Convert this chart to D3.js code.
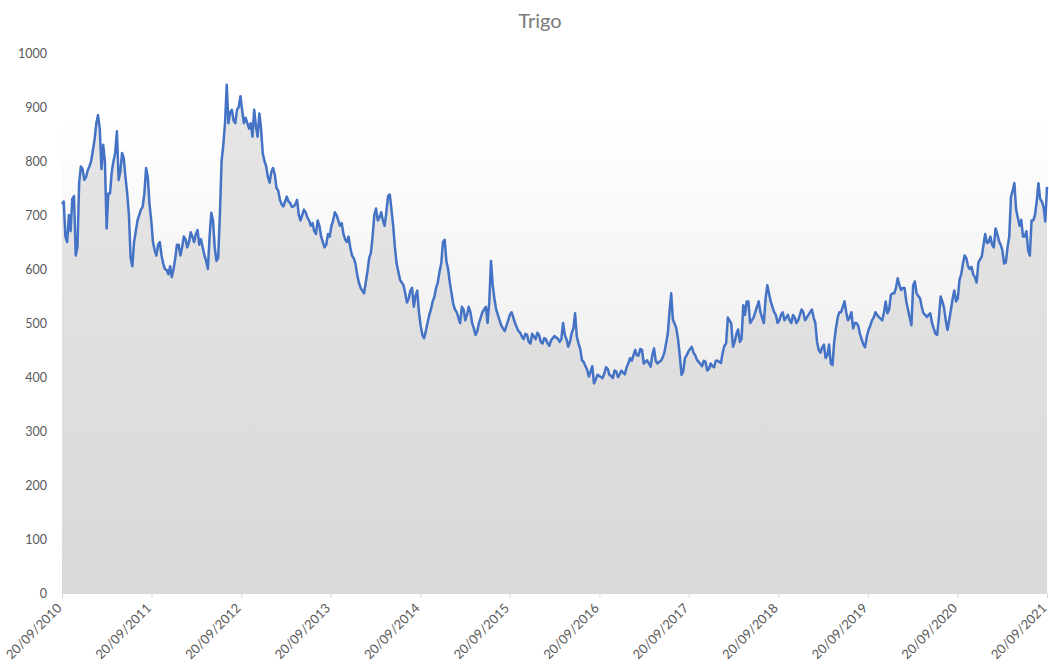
<!DOCTYPE html>
<html>
<head>
<meta charset="utf-8">
<script src="https://cdn.jsdelivr.net/npm/d3@7"></script>
<style>
  html, body { margin: 0; padding: 0; background: #ffffff; }
  svg { display: block; }
  text { font-family: Lato, "Open Sans", sans-serif; }
</style>
</head>
<body>
<svg id="chart" width="1049" height="665"></svg>
<script>
// Wheat price series, one value per week from 20/09/2010 to 20/09/2021
const chartTitle = "Trigo";
const seriesStart = "2010-09-20";
const sampleStepDays = 7;
const prices = [
  720, 725, 660, 650, 700, 670, 730, 735, 625, 640,
  760, 790, 785, 765, 770, 783, 790, 800, 820, 840,
  870, 885, 860, 785, 830, 800, 675, 740, 740, 780,
  800, 815, 855, 765, 780, 815, 805, 770, 740, 700,
  620, 605, 650, 670, 690, 700, 710, 715, 740, 787,
  770, 720, 690, 650, 635, 625, 645, 650, 625, 610,
  600, 598, 590, 605, 585, 600, 620, 645, 645, 625,
  640, 660, 655, 640, 650, 668, 660, 650, 665, 672,
  645, 655, 640, 625, 615, 600, 660, 704, 690, 640,
  615, 620, 700, 800, 830, 870, 941, 870, 890, 895,
  875, 870, 895, 900, 920, 894, 870, 880, 870, 860,
  870, 845, 895, 864, 845, 888, 860, 814, 800, 790,
  770, 760, 780, 787, 775, 750, 745, 728, 720, 716,
  725, 734, 725, 722, 715, 716, 720, 728, 700, 690,
  700, 710, 705, 695, 690, 680, 685, 670, 665, 690,
  680, 660, 650, 640, 645, 665, 660, 680, 690, 705,
  700, 690, 680, 685, 665, 655, 650, 660, 640, 625,
  620, 610, 590, 575, 565, 560, 555, 575, 595, 620,
  630, 660, 700, 712, 690, 695, 705, 690, 680, 705,
  735, 738, 710, 680, 640, 610, 595, 580, 575, 570,
  555, 538, 545, 560, 565, 530, 550, 560, 520, 495,
  478, 472, 485, 500, 515, 525, 540, 548, 565, 575,
  595, 610, 650, 654, 615, 600, 575, 555, 535, 525,
  520, 510, 500, 530, 525, 505, 515, 530, 520, 500,
  490, 478, 485, 500, 510, 520, 525, 530, 500, 540,
  615, 570, 545, 525, 515, 505, 495, 490, 485, 495,
  505, 515, 520, 510, 500, 492, 485, 482, 475, 470,
  480, 478, 465, 462, 480, 475, 470, 482, 478, 465,
  462, 472, 470, 462, 458, 468, 472, 476, 473, 471,
  465, 470, 500, 478, 470, 456, 465, 481, 490, 518,
  475, 462, 452, 431, 428, 420, 414, 401, 410, 420,
  388, 395, 404, 402, 400, 398, 406, 418, 415, 404,
  402, 398, 412, 410, 400, 405, 412, 408, 405, 418,
  425, 435, 430, 440, 450, 440, 440, 452, 450, 425,
  428, 431, 425, 419, 440, 453, 430, 425, 428, 430,
  436, 445, 462, 480, 520, 555, 506, 499, 490, 470,
  440, 404, 410, 435, 440, 447, 452, 456, 445, 440,
  432, 428, 424, 420, 430, 428, 412, 415, 425, 420,
  418, 430, 430, 428, 426, 445, 458, 462, 510, 505,
  499, 456, 465, 480, 488, 465, 470, 533, 515, 540,
  540, 500, 505, 510, 520, 530, 540, 520, 510, 500,
  545, 570, 555, 540, 530, 520, 515, 500, 505, 515,
  520, 505, 510, 515, 505, 500, 515, 510, 500, 505,
  515, 525, 520, 505, 510, 515, 520, 525, 510, 500,
  465, 450, 445, 455, 460, 435, 440, 460, 425, 422,
  465, 490, 510, 520, 520, 530, 540, 520, 505, 510,
  520, 490, 500, 500, 495, 480, 470, 460, 455, 475,
  487, 495, 505, 510, 520, 515, 511, 508, 505, 520,
  540, 518, 525, 552, 555, 555, 565, 583, 570, 561,
  565, 565, 540, 525, 510, 496, 570, 577, 555, 550,
  546, 530, 518, 515, 511, 515, 518, 500, 490, 480,
  478, 510, 549, 540, 528, 505, 487, 505, 524, 545,
  560, 540, 545, 580, 590, 610, 625, 620, 605, 600,
  604, 590, 585, 575, 612, 618, 623, 645, 665, 648,
  650, 660, 645, 640, 675, 665, 652, 645, 635, 610,
  612, 640, 660, 734, 745, 759, 710, 695, 680, 691,
  660, 660, 670, 635, 625, 690, 690, 700, 725, 759,
  730, 725, 715, 688, 752
];
const tickDates = [
  "2010-09-20", "2011-09-20", "2012-09-20", "2013-09-20", "2014-09-20", "2015-09-20",
  "2016-09-20", "2017-09-20", "2018-09-20", "2019-09-20", "2020-09-20", "2021-09-20"
];
const yTicks = [0, 100, 200, 300, 400, 500, 600, 700, 800, 900, 1000];

const parse = d3.timeParse("%Y-%m-%d");
const start = parse(seriesStart);
const data = prices.map((v, i) => ({ date: d3.timeDay.offset(start, i * sampleStepDays), value: v }));
const ticks = tickDates.map(parse);

const svg = d3.select("#chart");
const plot = { left: 62, right: 1047, top: 53, bottom: 593 };

const x = d3.scaleTime().domain([ticks[0], ticks[ticks.length - 1]]).range([plot.left, plot.right]);
const y = d3.scaleLinear().domain([0, 1000]).range([plot.bottom, plot.top]);

const defs = svg.append("defs");
const bgGrad = defs.append("linearGradient").attr("id", "bgGrad")
  .attr("x1", 0).attr("y1", 0).attr("x2", 0).attr("y2", 1);
bgGrad.append("stop").attr("offset", "0%").attr("stop-color", "#ffffff");
bgGrad.append("stop").attr("offset", "45%").attr("stop-color", "#f2f2f2");
bgGrad.append("stop").attr("offset", "100%").attr("stop-color", "#d9d9d9");

const areaGrad = defs.append("linearGradient").attr("id", "areaGrad")
  .attr("gradientUnits", "userSpaceOnUse")
  .attr("x1", 0).attr("y1", y(950)).attr("x2", 0).attr("y2", y(0));
areaGrad.append("stop").attr("offset", "0%").attr("stop-color", "#e6e6e6");
areaGrad.append("stop").attr("offset", "100%").attr("stop-color", "#d9d9d9");

// shaded backdrop behind the series
svg.append("rect")
  .attr("x", plot.left).attr("y", y(880))
  .attr("width", plot.right - plot.left).attr("height", y(0) - y(880))
  .attr("fill", "url(#bgGrad)");

// title
svg.append("text")
  .attr("x", 540).attr("y", 28)
  .attr("text-anchor", "middle")
  .attr("font-size", 20)
  .attr("fill", "#7a7a7a")
  .text(chartTitle);

// area under the price line
const area = d3.area().x(d => x(d.date)).y0(y(0)).y1(d => y(d.value));
svg.append("path").datum(data).attr("d", area).attr("fill", "url(#areaGrad)");

// price line
const line = d3.line().x(d => x(d.date)).y(d => y(d.value));
svg.append("path").datum(data).attr("d", line)
  .attr("fill", "none").attr("stroke", "#4472c4")
  .attr("stroke-width", 2.5).attr("stroke-linejoin", "round");

// y axis labels
const yAxis = svg.append("g").attr("transform", `translate(${plot.left},0)`)
  .call(d3.axisLeft(y).tickValues(yTicks).tickFormat(d3.format("d")).tickSize(0).tickPadding(15));
yAxis.select(".domain").remove();
yAxis.selectAll("text").attr("font-size", 12.5).attr("fill", "#595959")
  .style("font-family", "Lato, 'Open Sans', sans-serif");

// x axis
const xAxis = svg.append("g").attr("transform", `translate(0,${plot.bottom})`)
  .call(d3.axisBottom(x).tickValues(ticks).tickFormat(d3.timeFormat("%d/%m/%Y")).tickSize(5));
xAxis.select(".domain").attr("stroke", "#d9d9d9").attr("stroke-width", 1);
xAxis.selectAll(".tick line").attr("stroke", "#d9d9d9");
xAxis.selectAll("text")
  .attr("font-size", 13).attr("fill", "#595959")
  .style("font-family", "Lato, 'Open Sans', sans-serif")
  .attr("text-anchor", "end")
  .attr("x", 0).attr("y", 0).attr("dy", 0)
  .attr("transform", "translate(0,16) rotate(-45)");
</script>
</body>
</html>
